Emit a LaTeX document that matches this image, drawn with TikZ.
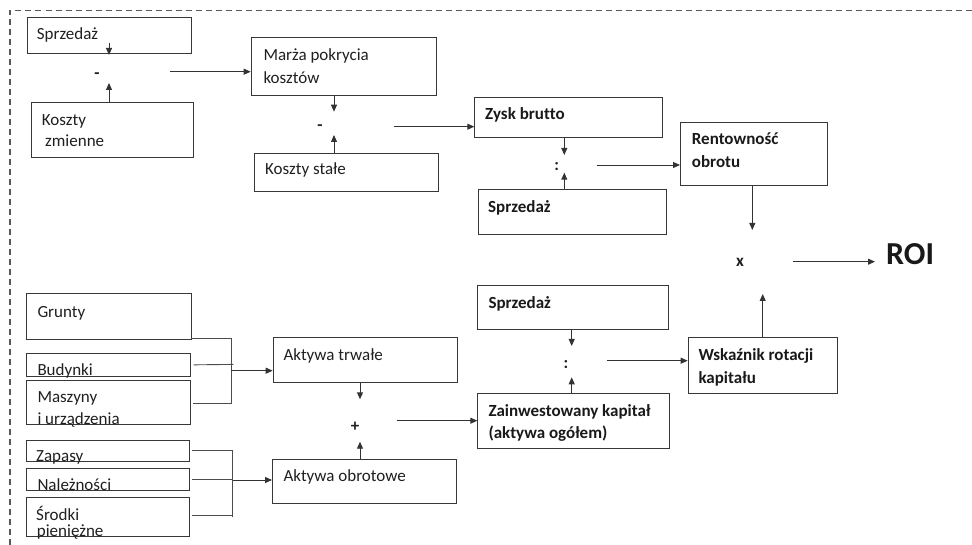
\documentclass[tikz,border=0pt]{standalone}
\usepackage{fontspec}
\setmainfont[Ligatures=NoCommon]{Carlito}
\usetikzlibrary{arrows.meta,calc}
\begin{document}
\begin{tikzpicture}[x=1pt,y=-1pt,
  box/.style={draw=black!78,line width=0.9pt,anchor=north west,inner sep=0pt},
  txt/.style={anchor=base west,inner sep=0pt,text=black!88,font=\fontsize{17}{20}\selectfont},
  btxt/.style={anchor=base west,inner sep=0pt,text=black!90,font=\fontsize{17}{20}\selectfont\bfseries},
  op/.style={inner sep=0pt,text=black!88,font=\fontsize{17}{20}\selectfont\bfseries},
  arr/.style={draw=black!80,line width=0.9pt,-{Triangle[length=7pt,width=6pt]}},
  ln/.style={draw=black!70,line width=0.9pt}]
\useasboundingbox (0,0) rectangle (972,545);
% frame
\draw[black!65,line width=1.2pt,dash pattern=on 6pt off 4pt] (10,545) -- (10,10.5) -- (972,10.5);
% boxes
\node[box,minimum width=164pt,minimum height=35.4pt] (s1) at (26.7,17.3) {};
\node[box,minimum width=162.3pt,minimum height=55pt] (kz) at (30.7,101.7) {};
\node[box,minimum width=185.3pt,minimum height=58.3pt] (mp) at (250.7,36.7) {};
\node[box,minimum width=184pt,minimum height=38.3pt] (ks) at (254,152.7) {};
\node[box,minimum width=187.4pt,minimum height=40pt] (zb) at (474.3,96.7) {};
\node[box,minimum width=188pt,minimum height=44.7pt] (s2) at (477.7,189.3) {};
\node[box,minimum width=146.7pt,minimum height=62.7pt] (ro) at (680,122.3) {};
\node[box,minimum width=191pt,minimum height=44.3pt] (s3) at (477.3,285) {};
\node[box,minimum width=149pt,minimum height=56pt] (wr) at (687.7,336.7) {};
\node[box,minimum width=191.7pt,minimum height=55.6pt] (zk) at (477.3,392.7) {};
\node[box,minimum width=164.5pt,minimum height=46.2pt] (gr) at (26,293.3) {};
\node[box,minimum width=164pt,minimum height=22.2pt] (bu) at (26,353.3) {};
\node[box,minimum width=164pt,minimum height=44pt] (ma) at (26,380) {};
\node[box,minimum width=163pt,minimum height=21.8pt] (za) at (26,439.5) {};
\node[box,minimum width=163.3pt,minimum height=22.2pt] (na) at (26,467.5) {};
\node[box,minimum width=163.3pt,minimum height=39pt] (sr) at (26,497) {};
\node[box,minimum width=184.6pt,minimum height=45pt] (at) at (272.7,336.7) {};
\node[box,minimum width=184pt,minimum height=43.5pt] (ao) at (272,459.2) {};
% texts
\node[txt] (t1) at (36.7,39.3) {Sprzedaż};
\node[txt] (t2) at (41.7,126) {Koszty};
\node[txt] (t3) at (45,146.7) {zmienne};
\node[txt] (t4) at (263.3,60.7) {Marża pokrycia};
\node[txt] (t5) at (263.3,83.3) {kosztów};
\node[txt] (t6) at (265,175) {Koszty stałe};
\node[btxt] (t7) at (485,120) {Zysk brutto};
\node[btxt] (t8) at (488,212.3) {Sprzedaż};
\node[btxt] (t9) at (691.7,145) {Rentowność};
\node[btxt] (t10) at (691.7,167.3) {obrotu};
\node[btxt] (t11) at (488.3,308.3) {Sprzedaż};
\node[btxt] (t12) at (698.3,360) {Wskaźnik rotacji};
\node[btxt] (t13) at (698.3,383.3) {kapitału};
\node[btxt] (t14) at (488.3,416.7) {Zainwestowany kapitał};
\node[btxt] (t15) at (488.3,438.3) {(aktywa ogółem)};
\node[txt] (t16) at (37.3,317.3) {Grunty};
\node[txt] (t17) at (37.3,375.7) {Budynki};
\node[txt] (t18) at (37.3,402.3) {Maszyny};
\node[txt] (t19) at (37.3,424) {i urządzenia};
\node[txt] (t20) at (36,461.7) {Zapasy};
\node[txt] (t21) at (37.3,490.7) {Należności};
\node[txt] (t22) at (36,520) {Środki};
\node[txt] (t23) at (36.7,536) {pieniężne};
\node[txt] (t24) at (283.3,360) {Aktywa trwałe};
\node[txt] (t25) at (283.3,481.7) {Aktywa obrotowe};
\node[anchor=base west,inner sep=0pt,text=black!90,font=\fontsize{32}{36}\selectfont\bfseries] (roi) at (886,265) {ROI};
% operators
\node[op] (m1) at (97,76) {-};
\node[op] (m2) at (320,128) {-};
\node[op] (d1) at (556.7,167) {:};
\node[op] (xx) at (740,262.7) {x};
\node[op] (d2) at (566,365) {:};
\node[op] (pl) at (355,426.7) {+};
% arrow coordinates
\coordinate (a1) at (109,55);
\coordinate (a2) at (109,83);
\coordinate (c3) at (170,71.7);
\coordinate (a4) at (334,111.7);
\coordinate (a5) at (334,135);
\coordinate (c6) at (394,126.7);
\coordinate (a7) at (564.3,155);
\coordinate (a8) at (564.3,172.7);
\coordinate (c9) at (596.7,165);
\coordinate (a10) at (752.3,230);
\coordinate (a11) at (762.7,294);
\coordinate (c12) at (792.7,261.7);
\coordinate (e12) at (875,261.7);
\coordinate (a13) at (571.7,346);
\coordinate (a14) at (571.7,377.3);
\coordinate (c15) at (606.7,360.7);
\coordinate (a16) at (360,399.3);
\coordinate (a17) at (360,441.7);
\coordinate (c18) at (396.7,420.7);
% arrows
\draw[arr] ($(s1.south -| a1)+(0,-11)$) -- (a1);
\draw[arr] (kz.north -| a2) -- (a2);
\draw[arr] (c3) -- (mp.west |- c3);
\draw[arr] (mp.south -| a4) -- (a4);
\draw[arr] (ks.north -| a5) -- (a5);
\draw[arr] (c6) -- (zb.west |- c6);
\draw[arr] (zb.south -| a7) -- (a7);
\draw[arr] (s2.north -| a8) -- (a8);
\draw[arr] (c9) -- (ro.west |- c9);
\draw[arr] (ro.south -| a10) -- (a10);
\draw[arr] (wr.north -| a11) -- (a11);
\draw[arr] (c12) -- (e12);
\draw[arr] (s3.south -| a13) -- (a13);
\draw[arr] (zk.north -| a14) -- (a14);
\draw[arr] (c15) -- (wr.west |- c15);
\draw[arr] (at.south -| a16) -- (a16);
\draw[arr] (ao.north -| a17) -- (a17);
\draw[arr] (c18) -- (zk.west |- c18);
% fixed assets group
\coordinate (jt1) at (231,403.3);
\coordinate (jb) at (233.3,364.4);
\coordinate (ja) at (231,370.7);
\draw[ln] ([yshift=2pt]gr.south east) -| (jt1) -- ($(jt1 -| ma.east)+(1.7,0)$);
\draw[ln] ([xshift=2.7pt]bu.east) -- (jb);
\draw[arr] (ja) -- (at.west |- ja);
% current assets group
\coordinate (jl) at (232.7,517.3);
\coordinate (js) at (232.7,515);
\coordinate (jo) at (232.7,480);
\draw[ln] ([xshift=1.7pt]za.east) -| (jl);
\draw[ln] ([xshift=1.7pt]na.east) -- (na.east -| jl);
\draw[ln] ($(sr.east |- js)+(1.7,0)$) -- (js);
\draw[arr] (jo) -- (ao.west |- jo);
\end{tikzpicture}
\end{document}
